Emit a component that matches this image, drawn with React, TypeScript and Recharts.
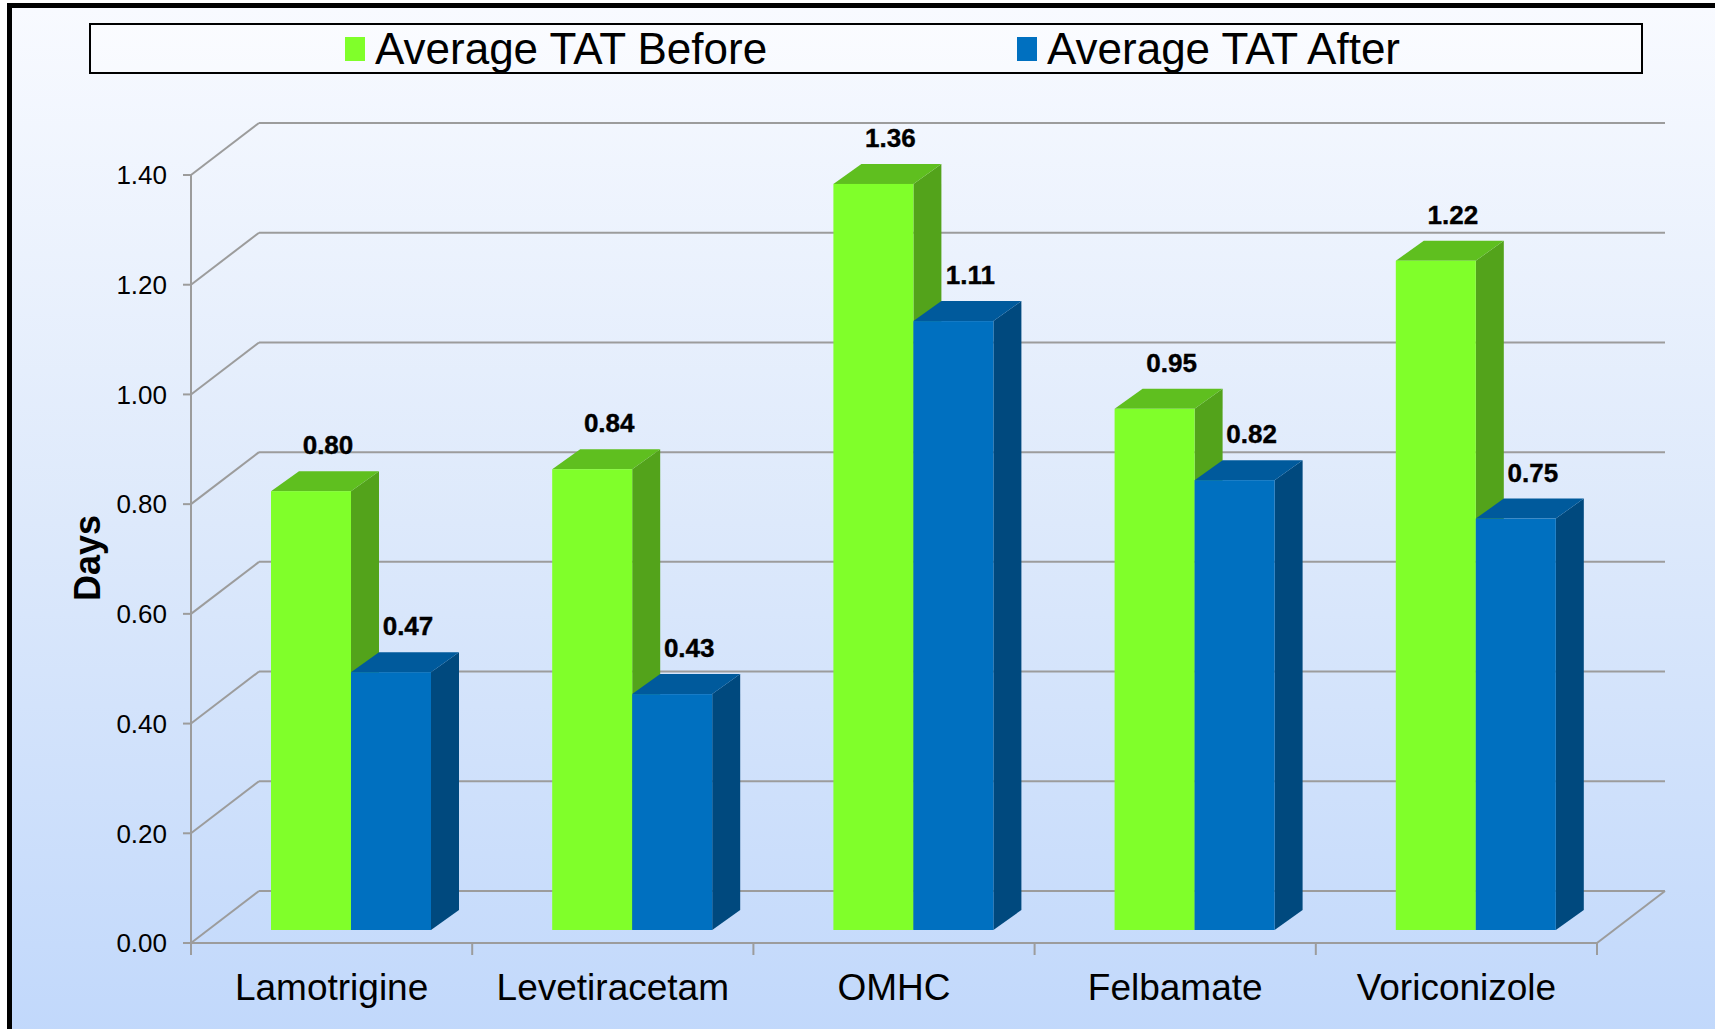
import React from 'react';
import { BarChart, Bar, XAxis, YAxis, CartesianGrid, LabelList } from 'recharts';

const categories = ['Lamotrigine', 'Levetiracetam', 'OMHC', 'Felbamate', 'Voriconizole'];
const beforeValues = [0.8, 0.84, 1.36, 0.95, 1.22];
const afterValues = [0.47, 0.43, 1.11, 0.82, 0.75];
const yTicks = [0, 0.2, 0.4, 0.6, 0.8, 1.0, 1.2, 1.4];
const seriesNames = ['Average TAT Before', 'Average TAT After'];

const data = categories.map((name, i) => ({
  name,
  before: beforeValues[i],
  after: afterValues[i],
}));

const W = 1715;
const H = 1029;
const Y_AXIS_W = 191;
const X_AXIS_H = 86;
const MARGIN = { top: 175, right: 118, bottom: 0, left: 0 };
const PLOT_W = W - Y_AXIS_W - MARGIN.right;
const PLOT_BOTTOM = H - X_AXIS_H;

// 3d look: back wall offset and bar depth
const WALL_DX = 68;
const WALL_DY = 52;
const BAR_SHIFT_X = 19;
const BAR_SHIFT_Y = -13;
const BAR_DX = 28;
const BAR_DY = 20;

const FONT = '"Liberation Sans", Arial, sans-serif';
const GRID = '#9c9c9c';

const green = { front: '#80ff2a', top: '#5fbf1f', side: '#53a31b' };
const blue = { front: '#0070c0', top: '#005a9c', side: '#00497e' };

const Bar3D = (props: any) => {
  const { x, y, width, height, faces } = props;
  if (width == null || height == null) return null;
  const X = x + BAR_SHIFT_X;
  const Y = y + BAR_SHIFT_Y;
  const top = `${X},${Y} ${X + BAR_DX},${Y - BAR_DY} ${X + width + BAR_DX},${Y - BAR_DY} ${X + width},${Y}`;
  const side = `${X + width},${Y} ${X + width + BAR_DX},${Y - BAR_DY} ${X + width + BAR_DX},${Y + height - BAR_DY} ${X + width},${Y + height}`;
  return (
    <g>
      <polygon points={side} fill={faces.side} />
      <polygon points={top} fill={faces.top} />
      <rect x={X} y={Y} width={width} height={height} fill={faces.front} />
    </g>
  );
};

const ValueLabel = (props: any) => {
  const { x, y, width, value } = props;
  return (
    <text
      x={x + width / 2 + BAR_SHIFT_X + 17}
      y={y + BAR_SHIFT_Y - 46 + 9}
      textAnchor="middle"
      fontFamily={FONT}
      fontWeight="bold"
      fontSize={26}
      fill="#000"
      stroke="#000"
      strokeWidth={0.4}
    >
      {Number(value).toFixed(2)}
    </text>
  );
};

const GridLine = (props: any) => {
  const { x1, y1, x2 } = props;
  const floor = Math.abs(y1 - PLOT_BOTTOM) < 1;
  return (
    <g key={props.key}>
      <line x1={x1} y1={y1} x2={x1 + WALL_DX} y2={y1 - WALL_DY} stroke={GRID} strokeWidth={2} />
      <line x1={x1 + WALL_DX} y1={y1 - WALL_DY} x2={x2 + WALL_DX} y2={y1 - WALL_DY} stroke={GRID} strokeWidth={2} />
      {floor && <line x1={x2} y1={y1} x2={x2 + WALL_DX} y2={y1 - WALL_DY} stroke={GRID} strokeWidth={2} />}
    </g>
  );
};

const CategoryTick = (props: any) => {
  const { x, y, payload, index } = props;
  const band = PLOT_W / categories.length;
  const last = index === categories.length - 1;
  return (
    <g>
      <line x1={x - band / 2} y1={y} x2={x - band / 2} y2={y + 12} stroke={GRID} strokeWidth={2} />
      {last && <line x1={x + band / 2} y1={y} x2={x + band / 2} y2={y + 12} stroke={GRID} strokeWidth={2} />}
      <text x={x} y={y + 57} textAnchor="middle" fontFamily={FONT} fontSize={37} fill="#000">
        {payload.value}
      </text>
    </g>
  );
};

const DaysLabel = (props: any) => {
  const { viewBox } = props;
  const cx = 100;
  const cy = viewBox.y + viewBox.height / 2 - 1;
  return (
    <text
      x={cx}
      y={cy}
      transform={`rotate(-90, ${cx}, ${cy})`}
      textAnchor="middle"
      fontFamily={FONT}
      fontWeight="bold"
      fontSize={36}
      fill="#000"
    >
      Days
    </text>
  );
};

const LegendItem = ({ color, label, left }: { color: string; label: string; left: number }) => (
  <div style={{ position: 'absolute', left, top: 0, height: '100%', display: 'flex', alignItems: 'center' }}>
    <div style={{ width: 20, height: 24, background: color, marginRight: 10 }} />
    <span>{label}</span>
  </div>
);

export default function App() {
  return (
    <div style={{ position: 'absolute', left: 0, top: 0, width: W, height: H, overflow: 'hidden' }}>
      <div
        style={{
          position: 'absolute',
          left: 7,
          top: 3,
          width: W,
          height: H,
          borderTop: '5px solid #000',
          borderLeft: '5px solid #000',
          background: 'linear-gradient(to bottom, #f8faff 0%, #dde9fb 50%, #c1d8fb 100%)',
        }}
      />
      <div
        style={{
          position: 'absolute',
          left: 89,
          top: 23,
          width: 1550,
          height: 47,
          border: '2px solid #000',
          background: 'rgba(255,255,255,0.35)',
          fontFamily: FONT,
          fontSize: 44,
          color: '#000',
          lineHeight: 1,
        }}
      >
        <LegendItem color={green.front} label={seriesNames[0]} left={254} />
        <LegendItem color={blue.front} label={seriesNames[1]} left={926} />
      </div>
      <div style={{ position: 'absolute', left: 0, top: 0 }}>
        <BarChart width={W} height={H} data={data} margin={MARGIN} barGap={0} barSize={80}>
          <CartesianGrid vertical={false} horizontal={(p: any) => <GridLine {...p} />} stroke={GRID} />
          <XAxis
            dataKey="name"
            height={X_AXIS_H}
            axisLine={{ stroke: GRID, strokeWidth: 2 }}
            tickLine={false}
            tickSize={0}
            tickMargin={0}
            interval={0}
            tick={<CategoryTick />}
          />
          <YAxis
            width={Y_AXIS_W}
            domain={[0, 1.4]}
            ticks={yTicks}
            tickFormatter={(v: number) => v.toFixed(2)}
            axisLine={{ stroke: GRID, strokeWidth: 2 }}
            tickLine={{ stroke: GRID, strokeWidth: 2 }}
            tickSize={8}
            tickMargin={16}
            tick={{ fontFamily: FONT, fontSize: 26, fill: '#000' }}
            label={<DaysLabel />}
          />
          <Bar
            dataKey="before"
            name={seriesNames[0]}
            fill={green.front}
            isAnimationActive={false}
            shape={(p: any) => <Bar3D {...p} faces={green} />}
          >
            <LabelList dataKey="before" content={<ValueLabel />} />
          </Bar>
          <Bar
            dataKey="after"
            name={seriesNames[1]}
            fill={blue.front}
            isAnimationActive={false}
            shape={(p: any) => <Bar3D {...p} faces={blue} />}
          >
            <LabelList dataKey="after" content={<ValueLabel />} />
          </Bar>
        </BarChart>
      </div>
    </div>
  );
}
